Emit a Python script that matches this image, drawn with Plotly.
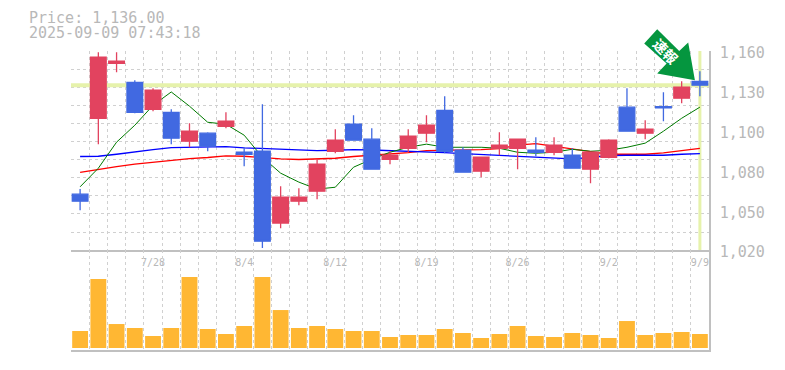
import plotly.graph_objects as go

dates = ["7/22","7/23","7/24","7/25","7/28","7/29","7/30","7/31","8/1","8/4","8/5","8/6","8/7","8/8","8/12","8/13","8/14","8/15","8/18","8/19","8/20","8/21","8/22","8/25","8/26","8/27","8/28","8/29","9/1","9/2","9/3","9/4","9/5","9/8","9/9"]
opens = [1059.3,1112.7,1151.4,1138.0,1119.0,1116.9,1096.6,1102.2,1107.1,1088.8,1089.5,1039.0,1054.4,1061.4,1089.5,1108.5,1098.0,1083.9,1091.6,1102.2,1118.3,1090.2,1075.5,1091.6,1091.6,1090.2,1088.8,1086.7,1076.9,1085.3,1120.5,1102.2,1120.8,1126.8,1138.7]
highs = [1062.9,1159.1,1159.1,1139.4,1133.8,1119.0,1109.2,1102.9,1116.9,1092.4,1122.6,1064.9,1063.5,1083.9,1105.0,1114.8,1105.7,1089.5,1105.0,1114.8,1128.2,1092.4,1085.3,1102.9,1098.0,1099.4,1099.4,1091.6,1088.8,1098.0,1133.8,1111.3,1131.0,1138.7,1145.8]
lows = [1048.1,1094.5,1145.0,1116.2,1117.6,1094.5,1092.4,1089.5,1105.7,1079.0,1021.4,1035.4,1051.6,1055.8,1088.1,1097.3,1076.9,1080.4,1088.8,1095.9,1088.1,1074.8,1071.3,1086.7,1076.9,1086.0,1086.7,1077.6,1067.0,1084.6,1103.6,1098.0,1110.6,1123.3,1128.2]
closes = [1054.4,1155.6,1152.8,1116.9,1132.4,1098.7,1103.6,1093.1,1110.6,1087.4,1026.3,1057.2,1057.2,1080.4,1097.3,1097.3,1076.9,1086.7,1100.1,1107.8,1089.5,1074.8,1085.3,1093.8,1098.0,1088.8,1093.8,1077.6,1088.8,1097.3,1103.6,1105.0,1120.1,1134.5,1136.0]
volumes = [17,69,24,20,12,20,71,19,14,22,71,38,20,22,19,17,17,11,13,13,19,15,10,14,22,12,11,15,13,10,27,13,15,16,14]

ma_short = [1064.5,1077.6,1095.9,1107.8,1121.8,1131.2,1121.2,1109.9,1108.5,1100.8,1085.3,1074.1,1067.8,1062.9,1064.2,1078.3,1083.9,1088.8,1092.3,1094.5,1092.3,1092.3,1092.3,1091.6,1088.8,1088.1,1088.8,1090.9,1089.5,1090.2,1092.3,1095.2,1103.6,1112.7,1120.5]
ma_mid = [1085.8,1086.0,1087.4,1089.2,1090.6,1092.0,1092.4,1092.6,1092.8,1091.9,1091.4,1090.9,1090.0,1090.0,1090.2,1090.7,1090.4,1090.0,1089.5,1089.3,1088.6,1087.8,1087.2,1086.5,1085.8,1085.3,1084.4,1084.2,1085.1,1086.4,1086.7,1086.7,1086.7,1087.4,1087.9]
ma_long = [1074.6,1076.9,1078.7,1080.4,1081.8,1083.2,1084.3,1085.1,1086.2,1086.0,1084.8,1084.1,1083.7,1084.0,1084.6,1085.8,1086.7,1087.4,1088.5,1089.9,1090.2,1090.2,1090.6,1091.4,1093.8,1094.8,1093.1,1091.0,1089.2,1087.4,1087.4,1087.4,1088.3,1090.2,1091.6]

current_price = 1136.0
price_grid_count = 11
price_range = [1020, 1160]
index_range = [-0.5, 34.5]
price_tick_vals = [1160, 1132, 1104, 1076, 1048, 1020]
price_tick_text = ["1,160", "1,130", "1,100", "1,080", "1,050", "1,020"]
date_labels = ["7/28", "8/4", "8/12", "8/19", "8/26", "9/2", "9/9"]
title_lines = ["Price: 1,136.00", "2025-09-09 07:43:18"]
badge_text = "速報"

OFF = 8  # the page's own body margin
W, H = 785 - OFF, 370 - OFF
L, R, T, B = 70.9 - OFF, 709.1 - OFF, 50.7 - OFF, 350.0 - OFF
MID = 250.0 - OFF
GREY = "#b8b8b8"
AXIS = "#c0c0c0"
GRID = "#d0d0d0"
MONO = "DejaVu Sans Mono"
RED = "#e2435f"
BLUE = "#4169e1"
YEL = "#e6f2ab"

def px(x): return (x - OFF - L) / (R - L)
def py(y): return (B - (y - OFF)) / (B - T)

idx = list(range(len(dates)))
fig = go.Figure()
fig.add_trace(go.Scatter(x=index_range, y=[current_price, current_price], mode="lines", line=dict(color=YEL, width=4), hoverinfo="skip"))
fig.add_trace(go.Scatter(x=[idx[-1], idx[-1]], y=price_range, mode="lines", line=dict(color=YEL, width=3), hoverinfo="skip"))
fig.add_trace(go.Scatter(x=idx, y=ma_long, mode="lines", line=dict(color="#ff0000", width=1.3)))
fig.add_trace(go.Scatter(x=idx, y=ma_mid, mode="lines", line=dict(color="#0000ff", width=1.3)))
fig.add_trace(go.Scatter(x=idx, y=ma_short, mode="lines", line=dict(color="#007a00", width=1)))
fig.add_trace(go.Candlestick(x=idx, open=opens, high=highs, low=lows, close=closes, whiskerwidth=0, xaxis="x3", yaxis="y3",
    increasing=dict(line=dict(color=RED, width=1.3), fillcolor=RED),
    decreasing=dict(line=dict(color=BLUE, width=1.3), fillcolor=BLUE)))
fig.add_trace(go.Bar(x=idx, y=volumes, marker=dict(color="#ffb733", line=dict(width=0)), width=0.87, xaxis="x2", yaxis="y2"))

label_idx = [dates.index(d) for d in date_labels]
minor_x = dict(tick0=-0.5, dtick=1, showgrid=True, griddash="3px,3px", gridcolor=GRID, gridwidth=1, ticklen=0)
fig.update_layout(
    width=W, height=H, margin=dict(l=L, r=W-R, t=T, b=H-B, autoexpand=False),
    paper_bgcolor="white", plot_bgcolor="white", showlegend=False, boxgap=0.14, boxgroupgap=0,
    xaxis=dict(domain=[0,1], range=index_range, anchor="y", tickvals=label_idx, ticktext=date_labels,
               showgrid=False, minor=minor_x, showline=True, linecolor=AXIS, linewidth=1.5,
               ticks="outside", ticklen=2, tickcolor="rgba(0,0,0,0)", tickfont=dict(family=MONO, size=10, color=GREY), zeroline=False),
    yaxis=dict(domain=[py(MID + OFF),1], range=price_range, side="right", anchor="x", showgrid=False,
               tickvals=price_tick_vals, ticktext=price_tick_text, ticks="", ticklabelstandoff=6, ticklabelshift=2,
               tickfont=dict(family=MONO, size=15, color=GREY), zeroline=False, showline=True, linecolor=AXIS, linewidth=1.5,
               minor=dict(tick0=1020, dtick=(price_range[1]-price_range[0])/price_grid_count, showgrid=True, griddash="3px,3px", gridcolor=GRID, gridwidth=1, ticklen=0)),
    xaxis2=dict(domain=[0,1], range=index_range, anchor="y2", showticklabels=False, showgrid=False, minor=minor_x,
                showline=True, linecolor=AXIS, linewidth=1.5, ticks="", zeroline=False),
    yaxis2=dict(domain=[0,py(MID + OFF)], range=[-2,98], side="right", anchor="x2", showgrid=False, showticklabels=False,
                ticks="", zeroline=False, showline=True, linecolor=AXIS, linewidth=1.5),
    xaxis3=dict(overlaying="x", range=index_range, anchor="y3", visible=False, rangeslider=dict(visible=False)),
    yaxis3=dict(overlaying="y", range=price_range, anchor="x3", visible=False, side="right"),
)
pts = [(657.3,29),(644.3,43.3),(666.7,63.3),(657.3,73.3),(695,80),(688.3,42.3),(679.3,50.7)]
path = "M " + " L ".join(f"{px(x):.5f},{py(y):.5f}" for x, y in pts) + " Z"
fig.add_shape(type="path", path=path, xref="paper", yref="paper", fillcolor="#05963f", line=dict(width=0), layer="above")
fig.add_annotation(x=px(666), y=py(50.5), xref="paper", yref="paper", text="<b>" + badge_text + "</b>", showarrow=False, textangle=45,
                   xanchor="center", yanchor="middle", font=dict(family="Noto Sans CJK JP", size=14, color="#ffffff"))
for line, yc in zip(title_lines, [18, 33]):
    fig.add_annotation(x=px(30), y=py(yc), xref="paper", yref="paper", text=line, showarrow=False, xanchor="left", yanchor="middle",
                       xshift=-1, font=dict(family=MONO, size=15, color=GREY), borderpad=0, borderwidth=0)
fig.write_html("out.html")
